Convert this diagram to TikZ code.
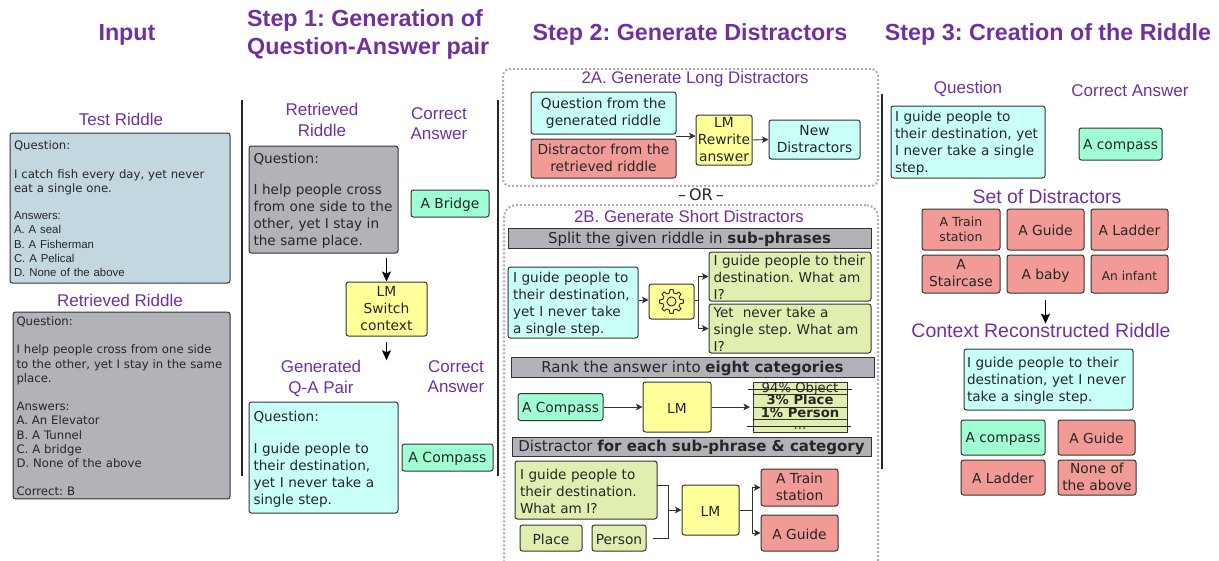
\documentclass[tikz,border=0pt]{standalone}
\usepackage{fontspec}
\usetikzlibrary{arrows.meta}
\setmainfont{DejaVu Sans}
\newfontfamily\headfont{Liberation Sans}
\newcommand{\ansfont}{\headfont\fontsize{11.4}{14.2}\selectfont}
\frenchspacing
\definecolor{titlepurple}{HTML}{7030A0}
\definecolor{testblue}{HTML}{C3D7E1}
\definecolor{retrgrey}{HTML}{B2B3B8}
\definecolor{questcyan}{HTML}{C8FFF6}
\definecolor{answermint}{HTML}{A0FFD2}
\definecolor{distractred}{HTML}{F29B96}
\definecolor{lmyellow}{HTML}{FFFF99}
\definecolor{phrasegreen}{HTML}{E0EFB0}
\definecolor{edgegrey}{HTML}{333333}
\tikzset{
  mainhead/.style={font=\headfont\bfseries\fontsize{23.3}{28}\selectfont, text=titlepurple, align=left, inner sep=0pt},
  subhead/.style={font=\headfont\fontsize{17}{20.5}\selectfont, text=titlepurple, align=center, inner sep=0pt},
  basebox/.style={draw=edgegrey, line width=1pt, rounded corners=2.5pt, align=center, inner sep=0pt, text=black!85, font=\fontsize{13.8}{17}\selectfont,
    execute at begin node={\rule{0pt}{13.5pt}}, execute at end node={\rule[-1.5pt]{0pt}{1.5pt}}},
  leftbox/.style={align=left, font=\fontsize{13.6}{17}\selectfont},
  inputbox/.style={basebox, align=left, font=\fontsize{11.7}{14.2}\selectfont,
    execute at begin node={\rule{0pt}{9.6pt}}, execute at end node={\rule[-3pt]{0pt}{3pt}}},
  questbox/.style={basebox, fill=questcyan},
  answerbox/.style={basebox, fill=answermint},
  distractbox/.style={basebox, fill=distractred},
  lmbox/.style={basebox, fill=lmyellow},
  phrasebox/.style={basebox, fill=phrasegreen},
  barbox/.style={draw=edgegrey, line width=1pt, fill=retrgrey, inner sep=0pt, text=black!85, font=\fontsize{15}{18}\selectfont,
    execute at begin node={\rule{0pt}{14pt}}, execute at end node={\rule[-2pt]{0pt}{2pt}}},
  rankrow/.style={draw=edgegrey, line width=.6pt, fill=phrasegreen, inner sep=0pt, minimum width=94, minimum height=12.5, text height=9.5, text depth=2.5, text=black!85, font=\fontsize{13.2}{14}\selectfont},
  panel/.style={draw=black!32, line width=2pt, dash pattern=on 2pt off 2pt, rounded corners=7pt},
  divider/.style={line width=1.6pt, black!85},
  link/.style={-{Stealth[length=6.5pt, width=6.5pt, inset=1.5pt]}, line width=.9pt, black!80},
  bigarrow/.style={-{Stealth[length=10pt, width=9pt, inset=2pt]}, line width=1.3pt, black},
}
\begin{document}
\begin{tikzpicture}[x=1pt, y=-1pt]
\useasboundingbox (0,0) rectangle (1219,560);

% headings
\node (headinput) at (127, 35) [mainhead] {Input};
\node (headone) at (247, 34) [mainhead, anchor=west] {Step 1: Generation of\\Question-Answer pair};
\node (headtwo) at (690, 34) [mainhead] {Step 2: Generate Distractors};
\node (headthree) at (1048, 34) [mainhead] {Step 3: Creation of the Riddle};

% dividers
\draw[divider] (242, 100) -- (242, 476);
\draw[divider] (498, 100) -- (498, 476);
\draw[divider] (882, 94) -- (882, 469);

% input column
\node (testtitle) at (121, 119) [subhead] {Test Riddle};
\node (testbox) at (120, 208) [inputbox, fill=testblue, minimum width=220, minimum height=150, text width=212] {Question:\\[14.2pt]I catch fish every day, yet never\\eat a single one.\\[13pt]{\ansfont Answers:}\\{\ansfont A. A seal}\\{\ansfont B. A Fisherman}\\{\ansfont C. A Pelical}\\{\ansfont D. None of the above}};
\node (inputtitle) at (120, 300) [subhead] {Retrieved Riddle};
\node (inputretr) at (121.5, 405.5) [inputbox, fill=retrgrey, minimum width=217, minimum height=183, text width=210] {Question:\\[14.2pt]I help people cross from one side\\to the other, yet I stay in the same\\place.\\[14.2pt]Answers:\\A. An Elevator\\B. A Tunnel\\C. A bridge\\D. None of the above\\[14.2pt]Correct: B};

% step 1
\node (retrtitle) at (322, 120) [subhead] {Retrieved\\Riddle};
\node (corrtitle) at (439, 123.5) [subhead] {Correct\\Answer};
\node (retrbox) at (323.5, 199.5) [basebox, leftbox, fill=retrgrey, minimum width=149, minimum height=107, text width=140] {Question:\\[14pt]I help people cross\\from one side to the\\other, yet I stay in\\the same place.};
\node (bridge) at (450, 203.5) [answerbox, minimum width=78, minimum height=27] {A Bridge};
\node (lmswitch) at (386.5, 309) [lmbox, minimum width=81, minimum height=54] {LM\\Switch\\context};
\node (gentitle) at (321, 378.5) [subhead] {Generated\\Q-A Pair};
\node (corrtwo) at (456, 376.5) [subhead] {Correct\\Answer};
\node (genbox) at (323.5, 457.5) [questbox, leftbox, minimum width=149, minimum height=111, text width=140] {Question:\\[15pt]I guide people to\\their destination,\\yet I never take a\\single step.};
\node (compass) at (447.5, 457.5) [answerbox, minimum width=91, minimum height=27, font=\fontsize{14}{17}\selectfont] {A Compass};
\draw[bigarrow] (retrbox.south -| lmswitch) ++(0, 4) -- (lmswitch.north);
\draw[bigarrow] (lmswitch.south) ++(0, 5) -- (gentitle.north -| lmswitch);

% step 2a
\node (longpanel) at (690.5, 127.5) [panel, minimum width=375, minimum height=117] {};
\node (longtitle) at (695, 79) [subhead, font=\headfont\fontsize{16.8}{20}\selectfont] {2A. Generate Long Distractors};
\node (longquest) at (603.5, 113) [questbox, minimum width=145, minimum height=42] {Question from the\\generated riddle};
\node (longdist) at (603.5, 158.5) [distractbox, minimum width=145, minimum height=39] {Distractor from the\\retrieved riddle};
\node (lmrewrite) at (724, 140) [lmbox, minimum width=56, minimum height=50] {LM\\Rewrite\\answer};
\node (newdist) at (814.5, 139.5) [questbox, minimum width=91, minimum height=39] {New\\Distractors};
\coordinate (longjoin) at (676, 136);
\draw[link] (longjoin) -- (lmrewrite.west |- longjoin);
\draw[link] (lmrewrite.east) -- (newdist.west);
\node (ortext) at (701, 195) [font=\fontsize{16}{18}\selectfont, text=black!85] {–\hspace{3pt}OR\hspace{3pt}–};

% step 2b
\node (shortpanel) at (691, 390) [panel, rounded corners=12pt, minimum width=374, minimum height=370] {};
\node (shorttitle) at (689, 216) [subhead, font=\headfont\fontsize{16.8}{20}\selectfont] {2B. Generate Short Distractors};
\node (splitbar) at (689.5, 238) [barbox, minimum width=363, minimum height=20] {Split the given riddle in \textbf{sub-phrases}};
\node (whole) at (573, 302.5) [questbox, leftbox, minimum width=130, minimum height=71, text width=120] {I guide people to\\their destination,\\yet I never take\\a single step.};
\node (gearbox) at (671.5, 301.5) [lmbox, minimum width=45, minimum height=35] {};
\begin{scope}[shift={(gearbox.center)}]
\foreach \tooth in {0,45,...,315} {
  \draw[line width=.9pt, black!85, line join=round] (\tooth-22.5:8.6) -- (\tooth-13:9) -- (\tooth-8:12) -- (\tooth+8:12) -- (\tooth+13:9) -- (\tooth+22.5:8.6);
}
\draw[line width=.9pt, black!85] (0,0) circle (4.6);
\end{scope}
\node (phraseone) at (790, 276.5) [phrasebox, leftbox, minimum width=162, minimum height=49, text width=153] {I guide people to their\\destination. What am\\I?};
\node (phrasetwo) at (790, 328.5) [phrasebox, leftbox, minimum width=162, minimum height=49, text width=153] {Yet\ \ never take a\\single step. What am\\I?};
\coordinate (splitfork) at (698, 300);
\draw[link] (whole.east |- splitfork) -- (gearbox.west |- splitfork);
\draw[link] (gearbox.east |- splitfork) -- (splitfork) |- (phraseone.west);
\draw[link] (splitfork) |- (phrasetwo.west);

\node (rankbar) at (692.5, 367) [barbox, minimum width=363, minimum height=20] {Rank the answer into \textbf{eight categories}};
\node (rankans) at (560.5, 407) [answerbox, minimum width=85, minimum height=27] {A Compass};
\node (lmrank) at (677, 407) [lmbox, minimum width=68, minimum height=50] {LM};
\node (rowobject) at (800, 388.5) [rankrow] {94\% Object};
\node (rowplace) at (800, 401) [rankrow] {\textbf{3\% Place}};
\node (rowperson) at (800, 413.5) [rankrow] {\textbf{1\% Person}};
\node (rowdots) at (800, 426) [rankrow] {...};
\draw[line width=1pt, black!85] (748, 389) -- (852, 389);
\draw[line width=1pt, black!85] (747, 426) -- (851, 426);
\draw[link] (rankans) -- (lmrank);
\draw[link] (lmrank.east) -- (750, 407);

\node (distbar) at (691.5, 446.5) [barbox, minimum width=359, minimum height=19] {Distractor \textbf{for each sub-phrase \& category}};
\node (phrasethree) at (586, 490) [phrasebox, leftbox, minimum width=142, minimum height=58, text width=132] {I guide people to\\their destination.\\What am I?};
\node (place) at (551, 538) [phrasebox, minimum width=62, minimum height=26] {Place};
\node (person) at (619, 538) [phrasebox, minimum width=54, minimum height=26] {Person};
\node (lmdist) at (710.5, 510) [lmbox, minimum width=57, minimum height=50] {LM};
\node (train) at (799.5, 487.5) [distractbox, minimum width=77, minimum height=37] {A Train\\station};
\node (guide) at (799.5, 533) [distractbox, minimum width=77, minimum height=36] {A Guide};
\coordinate (mergeup) at (657, 485);
\coordinate (mergedown) at (653, 538);
\coordinate (mergemid) at (668, 510);
\coordinate (forkmid) at (752, 510);
\draw[link] (mergeup) -| (mergemid) -- (lmdist.west);
\draw[line width=.9pt, black!80] (mergedown) -| (mergemid);
\draw[link] (lmdist.east) -- (forkmid) |- (train.west);
\draw[link] (forkmid) |- (guide.west);

% step 3
\node (questtitle) at (968, 88.5) [subhead] {Question};
\node (anstitle) at (1130, 90.5) [subhead] {Correct Answer};
\node (finalquest) at (968, 142) [questbox, leftbox, minimum width=154, minimum height=72, text width=146] {I guide people to\\their destination, yet\\I never take a single\\step.};
\node (finalans) at (1120.5, 144) [answerbox, minimum width=83, minimum height=32] {A compass};
\node (settitle) at (1047, 197) [subhead, font=\headfont\fontsize{19.4}{21}\selectfont] {Set of Distractors};
\node (setone) at (961, 229.5) [distractbox, minimum width=78, minimum height=41, font=\fontsize{12.5}{15}\selectfont] {A Train\\station};
\node (settwo) at (1045.5, 229.5) [distractbox, minimum width=77, minimum height=41] {A Guide};
\node (setthree) at (1129.5, 229.5) [distractbox, minimum width=77, minimum height=41] {A Ladder};
\node (setfour) at (961, 274) [distractbox, minimum width=78, minimum height=38] {A\\Staircase};
\node (setfive) at (1045.5, 274) [distractbox, minimum width=77, minimum height=38] {A baby};
\node (setsix) at (1129.5, 274) [distractbox, minimum width=77, minimum height=38, font=\fontsize{12.2}{15}\selectfont] {An infant};
\node (contexttitle) at (1041, 331) [subhead, font=\headfont\fontsize{19.5}{22}\selectfont] {Context Reconstructed Riddle};
\draw[bigarrow] (setfive.south) ++(0, 6) -- (contexttitle.north -| setfive);
\node (contextbox) at (1048.5, 379.5) [questbox, leftbox, minimum width=169, minimum height=61, text width=163] {I guide people to their\\destination, yet I never\\take a single step.};
\node (optone) at (1003, 437.5) [answerbox, minimum width=84, minimum height=35] {A compass};
\node (opttwo) at (1096.5, 437.5) [distractbox, minimum width=77, minimum height=35] {A Guide};
\node (optthree) at (1003, 477.5) [distractbox, minimum width=84, minimum height=35] {A Ladder};
\node (optfour) at (1097, 477.5) [distractbox, minimum width=78, minimum height=35] {None of\\the above};
\end{tikzpicture}
\end{document}
